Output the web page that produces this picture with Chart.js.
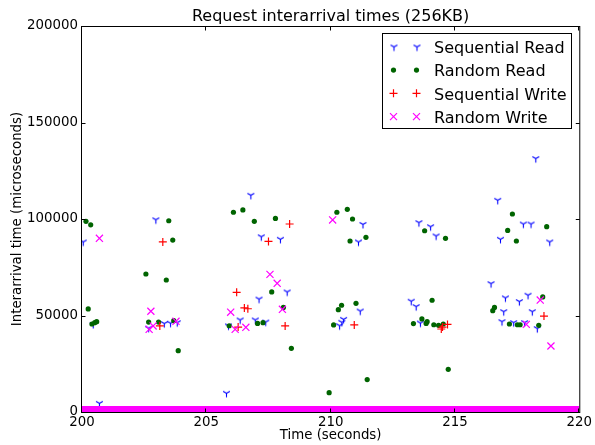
<!DOCTYPE html>
<html>
<head>
<meta charset="utf-8">
<script src="https://cdn.jsdelivr.net/npm/chart.js@4.4.1/dist/chart.umd.min.js"></script>
<style>
  html, body { margin: 0; padding: 0; background: #fff; }
  #wrap { width: 595px; height: 445px; }
</style>
</head>
<body>
<div id="wrap"><canvas id="chart" width="595" height="445"></canvas></div>
<script>
// ---------- Data ----------
const TITLE = "Request interarrival times (256KB)";
const xTicks = [200, 205, 210, 215, 220];
const yTicks = [0, 50000, 100000, 150000, 200000];

const seqReadX = [200.05, 200.45, 200.7, 202.68, 202.97, 203.31, 203.56, 203.83, 205.81, 205.89, 206.36, 206.79,
  206.97, 207.12, 207.21, 207.39, 207.98, 208.25, 210.36, 210.45, 210.52, 211.12, 211.19, 211.3,
  213.24, 213.44, 213.55, 213.61, 214.02, 214.24, 216.45, 216.72, 216.83, 216.89, 216.96, 217.03,
  217.36, 217.59, 217.75, 217.8, 217.94, 218.06, 218.11, 218.25, 218.31, 218.81];
const seqReadY = [88100, 45400, 4500, 43400, 99600, 45800, 46000, 46300, 9700, 44600, 47700, 112300,
  47700, 58500, 90800, 46600, 89500, 62200, 44700, 46500, 48000, 88100, 52300, 97200,
  57400, 54600, 98100, 46100, 96000, 91200, 66500, 109700, 89500, 46800, 52000, 59100,
  46300, 57200, 97400, 46300, 60500, 97400, 52000, 131300, 43200, 88100];

const randReadX = [200.16, 200.25, 200.35, 200.4, 200.51, 200.59, 202.57, 202.68, 203.08, 203.39, 203.49, 203.65,
  203.69, 203.87, 205.92, 206.09, 206.47, 206.93, 207.06, 207.28, 207.63, 207.78, 208.1, 208.42,
  209.94, 210.12, 210.25, 210.31, 210.44, 210.67, 210.78, 210.88, 211.02, 211.42, 211.47,
  213.33, 213.67, 213.78, 213.84, 213.88, 214.08, 214.15, 214.34, 214.53, 214.62, 214.73,
  216.52, 216.59, 217.12, 217.19, 217.31, 217.47, 217.51, 217.62, 218.37, 218.53, 218.69];
const randReadY = [98800, 53400, 97000, 45600, 46300, 46800, 71500, 46600, 46600, 68400, 99100, 89100,
  47300, 31800, 44700, 103500, 104700, 98800, 45900, 46300, 62200, 100300, 54200, 33000,
  10000, 45100, 103500, 53000, 55300, 105000, 88600, 100000, 56300, 90500, 16800,
  45800, 48200, 93900, 45900, 46800, 57900, 45200, 44900, 45600, 90000, 22100,
  52500, 54200, 94100, 45600, 102600, 88600, 45200, 45200, 44900, 59600, 96000];

const seqWriteX = [203.13, 203.25, 206.22, 206.28, 206.53, 206.67, 207.5, 208.17, 208.35, 210.95,
  214.45, 214.5, 214.7, 218.58];
const seqWriteY = [44600, 88100, 62000, 44000, 53900, 53500, 88400, 44600, 97400, 45100,
  43000, 44000, 45400, 49700];

const randWriteX = [200.7, 202.7, 202.77, 202.86, 203.78, 205.98, 206.16, 206.59, 207.56, 207.85,
  208.06, 210.08, 217.87, 218.43, 218.86];
const randWriteY = [90000, 42800, 52200, 44600, 47000, 51700, 42800, 43900, 71300, 66700,
  53200, 99500, 45400, 58000, 34200];

// dense random-write floor (thousands of tiny values that merge into a band)
const randWriteFloorX = [200, 220];
const randWriteFloorY = [1550, 1550];

const FONT = '"DejaVu Sans", sans-serif';
const BLUE = "#0000ff", GREEN = "#006400", RED = "#ff0000", MAGENTA = "#ff00ff";

const toPts = (xs, ys) => xs.map((x, i) => ({ x, y: ys[i] }));

// matplotlib "tri_down" marker as a small canvas
function triDown(color, r) {
  const s = 11;
  const c = document.createElement("canvas");
  c.width = s; c.height = s;
  const g = c.getContext("2d");
  const m = s / 2;
  g.strokeStyle = color; g.lineWidth = 1.1;
  g.beginPath();
  g.moveTo(m, m); g.lineTo(m, m + r);
  g.moveTo(m, m); g.lineTo(m - r * 0.866, m - r * 0.5);
  g.moveTo(m, m); g.lineTo(m + r * 0.866, m - r * 0.5);
  g.stroke();
  return c;
}
const triImg = triDown(BLUE, 3.9);

// ---------- Plugins ----------
const titleText = {
  id: "titleText",
  afterDraw(chart) {
    const { ctx, chartArea: a } = chart;
    ctx.save();
    ctx.fillStyle = "#000";
    ctx.font = "16px " + FONT;
    ctx.textAlign = "center";
    ctx.textBaseline = "alphabetic";
    ctx.fillText(TITLE, (a.left + a.right) / 2, 20.7);
    ctx.restore();
  }
};

const frame = {
  id: "frame",
  afterDatasetsDraw(chart) {
    const { ctx, chartArea: a, scales: { x, y } } = chart;
    const L = a.left - 0.5, R = a.right + 0.5, T = a.top + 0.5, B = a.bottom + 0.5;
    ctx.save();
    ctx.strokeStyle = "#000";
    ctx.lineWidth = 1;
    ctx.strokeRect(L, T, R - L, B - T);
    ctx.beginPath();
    xTicks.forEach(v => {
      const px = Math.round(x.getPixelForValue(v)) - 0.5;
      ctx.moveTo(px, B); ctx.lineTo(px, B - 4);
      ctx.moveTo(px, T); ctx.lineTo(px, T + 4);
    });
    yTicks.forEach(v => {
      const py = Math.round(y.getPixelForValue(v)) + 0.5;
      ctx.moveTo(L, py); ctx.lineTo(L + 4, py);
      ctx.moveTo(R, py); ctx.lineTo(R - 4, py);
    });
    ctx.stroke();
    ctx.restore();
  }
};

const LEGEND = [
  { label: "Sequential Read", mark: "tri", color: BLUE },
  { label: "Random Read", mark: "dot", color: GREEN },
  { label: "Sequential Write", mark: "plus", color: RED },
  { label: "Random Write", mark: "x", color: MAGENTA }
];

function drawMark(ctx, mark, color, x, y) {
  ctx.strokeStyle = color; ctx.fillStyle = color; ctx.lineWidth = 1.2;
  ctx.beginPath();
  if (mark === "tri") {
    ctx.drawImage(triImg, Math.round(x) - triImg.width / 2, Math.round(y) - triImg.height / 2);
    return;
  }
  if (mark === "dot") { ctx.arc(x, y, 2.6, 0, Math.PI * 2); ctx.fill(); return; }
  if (mark === "plus") { ctx.moveTo(x - 4, y); ctx.lineTo(x + 4, y); ctx.moveTo(x, y - 4); ctx.lineTo(x, y + 4); }
  if (mark === "x") { ctx.moveTo(x - 3.5, y - 3.5); ctx.lineTo(x + 3.5, y + 3.5); ctx.moveTo(x - 3.5, y + 3.5); ctx.lineTo(x + 3.5, y - 3.5); }
  ctx.stroke();
}

const boxLegend = {
  id: "boxLegend",
  afterDraw(chart) {
    const ctx = chart.ctx;
    ctx.save();
    ctx.fillStyle = "#fff";
    ctx.fillRect(382.5, 33.5, 189, 95);
    ctx.strokeStyle = "#000"; ctx.lineWidth = 1;
    ctx.strokeRect(382.5, 33.5, 189, 95);
    LEGEND.forEach((e, i) => {
      const yRow = 46.7 + i * 23.33;
      drawMark(ctx, e.mark, e.color, 393.5, yRow);
      drawMark(ctx, e.mark, e.color, 416.5, yRow);
      ctx.fillStyle = "#000";
      ctx.font = "16px " + FONT;
      ctx.textAlign = "left";
      ctx.textBaseline = "alphabetic";
      ctx.fillText(e.label, 434, yRow + 6.3);
    });
    ctx.restore();
  }
};

// ---------- Chart ----------
new Chart(document.getElementById("chart"), {
  type: "scatter",
  data: {
    datasets: [
      { label: "Sequential Read", data: toPts(seqReadX, seqReadY), pointStyle: triImg, pointRadius: 3.9, order: 4 },
      { label: "Random Read", data: toPts(randReadX, randReadY), pointStyle: "circle", pointRadius: 2.6,
        backgroundColor: GREEN, borderColor: GREEN, borderWidth: 0, order: 3 },
      { label: "Sequential Write", data: toPts(seqWriteX, seqWriteY), pointStyle: "cross", pointRadius: 4,
        borderColor: RED, borderWidth: 1.2, order: 2 },
      { label: "Random Write", data: toPts(randWriteX, randWriteY), pointStyle: "crossRot", pointRadius: 5,
        borderColor: MAGENTA, borderWidth: 1.2, order: 1 },
      { label: "Random Write floor", data: toPts(randWriteFloorX, randWriteFloorY), showLine: true,
        borderColor: MAGENTA, borderWidth: 6, pointRadius: 0, clip: 0, order: 0 }
    ]
  },
  options: {
    responsive: false,
    animation: false,
    events: [],
    devicePixelRatio: 1,
    layout: { padding: { left: 0, right: 15, top: 26, bottom: 0 } },
    plugins: {
      legend: { display: false },
      tooltip: { enabled: false },
      title: { display: false }
    },
    scales: {
      x: {
        type: "linear", min: 200, max: 220,
        afterBuildTicks: s => { s.ticks = xTicks.map(v => ({ value: v })); },
        afterFit: s => { s.height = 33; },
        grid: { display: false, drawTicks: false },
        border: { display: false },
        ticks: { color: "#000", font: { family: FONT, size: 13.33 }, padding: 3, maxRotation: 0, callback: v => String(v) },
        title: { display: true, text: "Time (seconds)", color: "#000", font: { family: FONT, size: 13.33 }, padding: { top: 0, bottom: 1.6 } }
      },
      y: {
        type: "linear", min: 0, max: 200000,
        afterBuildTicks: s => { s.ticks = yTicks.map(v => ({ value: v })); },
        afterFit: s => { s.width = 82; },
        grid: { display: false, drawTicks: false },
        border: { display: false },
        ticks: { color: "#000", font: { family: FONT, size: 13.33 }, padding: 4, callback: v => String(v) },
        title: { display: true, text: "Interarrival time (microseconds)", color: "#000", font: { family: FONT, size: 13.33 }, padding: { top: 10, bottom: 0 } }
      }
    }
  },
  plugins: [titleText, frame, boxLegend]
});
</script>
</body>
</html>
